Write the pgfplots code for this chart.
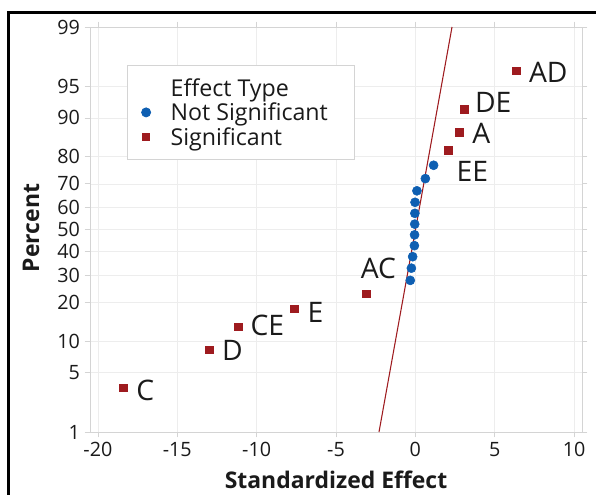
\documentclass[border=0pt]{standalone}
\usepackage{fontspec}
\setmainfont{Open Sans}
\usepackage{pgfplots}
\pgfplotsset{compat=1.18}
\definecolor{ptBlue}{HTML}{0E5FB2}
\definecolor{ptRed}{HTML}{9E1B1F}
\definecolor{axGray}{HTML}{D4D4D4}
\definecolor{grGray}{HTML}{EDEDED}
\definecolor{ink}{HTML}{1A1A1A}
% y values are normal quantiles z of the plotting positions (i-0.3)/(n+0.4), n=20
\begin{document}
\begin{tikzpicture}
\begin{axis}[
  name=ax,
  scale only axis,
  width=369pt, height=303.75pt,
  xmin=-20.5, xmax=10.5,
  ymin=-2.3263, ymax=2.3263,
  xtick={-20,-15,-10,-5,0,5,10},
  xticklabels={-20,-15,-10,-5,0,5,10},
  ytick={-2.3263,-1.6449,-1.2816,-0.8416,-0.5244,-0.2533,0,0.2533,0.5244,0.8416,1.2816,1.6449,2.3263},
  yticklabels={1,5,10,20,30,40,50,60,70,80,90,95,99},
  tick align=outside,
  major tick length=4pt,
  tick style={axGray, line width=0.6pt},
  axis line style={axGray, line width=0.7pt},
  grid=major,
  grid style={grGray, line width=0.5pt},
  tick label style={font=\fontsize{14.8}{16}\selectfont, text=ink},
  xlabel={Standardized Effect},
  ylabel={Percent},
  label style={font=\bfseries\fontsize{17.2}{19}\selectfont, text=ink},
  xlabel style={at={(axis description cs:0.5,-0.1185)}, anchor=center},
  ylabel style={at={(axis description cs:-0.12,0.504)}, anchor=center, rotate=0},
  legend style={
    at={(axis description cs:0.0752,0.906)}, anchor=north west,
    draw=axGray, line width=0.6pt,
    font=\fontsize{17.4}{18}\selectfont, text=ink,
    inner xsep=5.5pt, inner ysep=7.3pt,
    row sep=0pt, column sep=13pt,
    nodes={inner xsep=2pt, inner ysep=1.2pt, text height=14.5pt, text depth=1.7pt},
  },
  legend cell align=left,
  clip=false,
]
\addlegendimage{empty legend}
\addlegendentry{Effect Type}

\addplot[only marks, mark=*, mark size=3.4pt, ptBlue] coordinates {
  (-0.32,-0.5845) (-0.25,-0.4443) (-0.17,-0.3123) (-0.06,-0.1857)
  (-0.05,-0.0615) (-0.04,0.0615) (-0.03,0.1857) (-0.02,0.3123)
  (0.10,0.4443) (0.63,0.5845) (1.15,0.7378)
};
\addlegendentry{Not Significant\hspace*{12.5pt}}

\addplot[only marks, mark=square*, mark size=2.75pt, ptRed] coordinates {
  (-18.40,-1.8215) (-12.98,-1.3830) (-11.15,-1.1151) (-7.62,-0.9107)
  (-3.09,-0.7378) (2.08,0.9107) (2.77,1.1151) (3.09,1.3830) (6.36,1.8215)
};
\addlegendentry{Significant}

\addplot[ptRed, line width=0.8pt, forget plot] coordinates {(-2.29,-2.3263) (2.31,2.3263)};

\begin{scope}[every node/.style={font=\fontsize{21.2}{24}\selectfont, text=ink, inner sep=0pt}]
\node at (axis cs:-17.01,-1.844) {C};
\node at (axis cs:-11.53,-1.384) {D};
\node at (axis cs:-9.33,-1.097) {CE};
\node at (axis cs:-6.30,-0.948) {E};
\node at (axis cs:-2.33,-0.442) {AC};
\node at (axis cs:3.59,0.672) {EE};
\node at (axis cs:4.16,1.108) {A};
\node at (axis cs:4.91,1.465) {DE};
\node at (axis cs:8.38,1.809) {AD};
\end{scope}
\end{axis}
\pgfresetboundingbox
\path[use as bounding box] (-67.5pt,-47.25pt) rectangle (379.5pt,324pt);
\draw[black, line width=2pt] (-61.1pt,-50pt) -- (-61.1pt,314.6pt) -- (382pt,314.6pt);
\end{tikzpicture}
\end{document}
